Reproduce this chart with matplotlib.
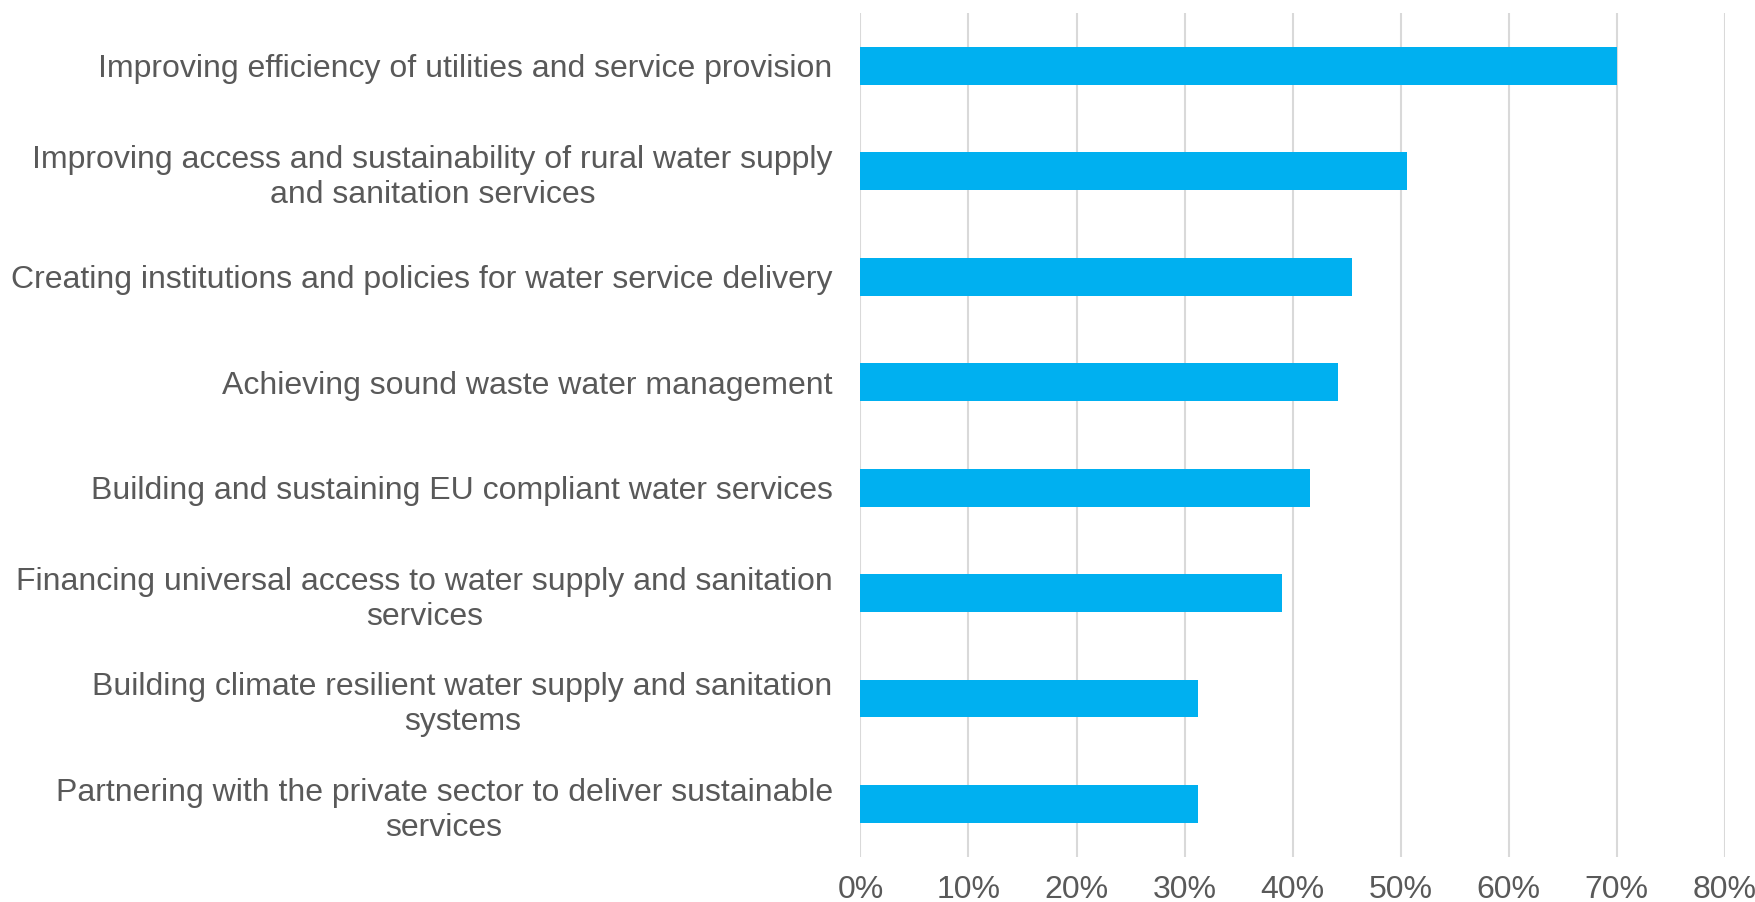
import matplotlib.pyplot as plt
from matplotlib.ticker import PercentFormatter

plt.rcParams['font.family'] = ['Liberation Sans', 'DejaVu Sans']

categories = [
    'Improving efficiency of utilities and service provision',
    'Improving access and sustainability of rural water supply\nand sanitation services',
    'Creating institutions and policies for water service delivery',
    'Achieving sound waste water management',
    'Building and sustaining EU compliant water services',
    'Financing universal access to water supply and sanitation\nservices',
    'Building climate resilient water supply and sanitation\nsystems',
    'Partnering with the private sector to deliver sustainable\nservices',
]
shares = [70.0, 50.6, 45.5, 44.2, 41.6, 39.0, 31.2, 31.2]
xticks = [0, 10, 20, 30, 40, 50, 60, 70, 80]

text_col = '#595959'
grid_col = '#D9D9D9'
bar_col = '#00B0F0'

fig = plt.figure(figsize=(17.56, 9.02), dpi=100)
ax = fig.add_axes([0.49, 0.05, 0.9823 - 0.49, 0.9856 - 0.05])

ypos = range(len(categories))
ax.barh(ypos, shares, height=0.357, color=bar_col, zorder=3)

ax.set_ylim(len(categories) - 0.5, -0.5)
ax.set_xlim(0, 80)
ax.set_xticks(xticks)
ax.xaxis.set_major_formatter(PercentFormatter(decimals=0))
ax.set_yticks(list(ypos))
ax.set_yticklabels(categories, multialignment='center', linespacing=1.22)

ax.grid(axis='x', color=grid_col, linewidth=1.5, zorder=0)
for s in ax.spines.values():
    s.set_visible(False)
ax.tick_params(axis='both', length=0, labelsize=23, colors=text_col)
ax.tick_params(axis='y', pad=20)
ax.tick_params(axis='x', pad=13)

fig.savefig('out.png', dpi=100)
